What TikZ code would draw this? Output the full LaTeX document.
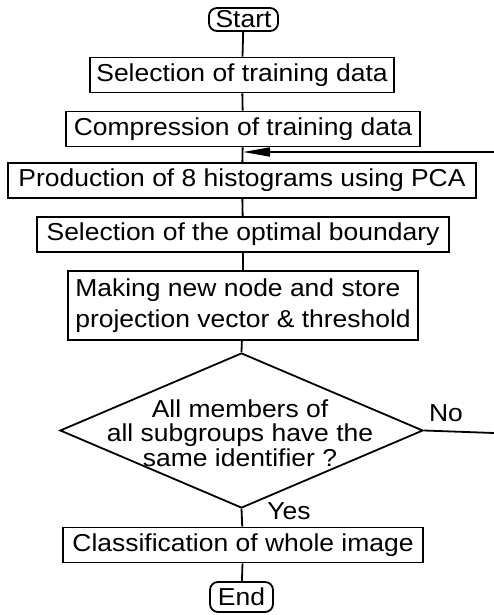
\documentclass[tikz,border=0pt]{standalone}
\usepackage{fontspec}
\setmainfont[FakeStretch=1.08]{Liberation Sans}
\usetikzlibrary{arrows.meta,shapes.geometric}
\begin{document}
\begin{tikzpicture}[x=1pt,y=-1pt,line width=1.8pt,
  txt/.style={font=\fontsize{24.5}{31}\selectfont},
  proc/.style={txt,draw,rectangle,inner sep=0pt,minimum height=35pt},
  term/.style={txt,draw,rectangle,rounded corners=8pt,inner sep=0pt},
  decision/.style={draw,diamond,inner sep=0pt,minimum width=363pt,minimum height=155pt},
  dtext/.style={font=\fontsize{24.5}{24.5}\selectfont,align=center,inner sep=0pt},
  lbl/.style={txt,inner sep=0pt},
  flow/.style={line width=1.8pt},
  back/.style={line width=1.8pt,-{Triangle[length=27pt,width=9pt]}}]
\useasboundingbox (0,0) rectangle (494,615);

% terminals and process steps
\node[term,minimum width=69pt,minimum height=23pt] (start) at (243.5,19.5) {Start};
\node[proc,minimum width=304pt] (b1) at (242,75) {Selection of training data};
\node[proc,minimum width=354pt] (b2) at (243,129) {Compression of training data};
\node[proc,minimum width=468pt] (b3) at (242,180.5) {Production of 8 histograms using PCA};
\node[proc,minimum width=412pt] (b4) at (243,234.5) {Selection of the optimal boundary};
\node[proc,minimum width=350pt,minimum height=69pt,align=left] (b5) at (243,305.5)
  {Making new node and store\\projection vector \& threshold};
\node[decision] (dec) at (241.5,430.5) {};
\node[dtext] (dectext) at (240,433) {All members of\\all subgroups have the\\same identifier ?};
\node[proc,minimum width=360pt] (b6) at (243,545) {Classification of whole image};
\node[term,minimum width=63pt,minimum height=30pt] (end) at (241.5,597) {End};

% branch labels
\node[lbl] (no) at (446,413) {No};
\node[lbl] (yes) at (289,511) {Yes};

% loose ends of the loop-back line at the right margin
\coordinate (loopA) at (494,433);
\coordinate (loopB) at (494,152);
\coordinate (merge) at (b2.south |- loopB);

% main flow
\draw[flow] (start) -- (b1);
\draw[flow] (b1) -- (b2);
\draw[flow] (b2) -- (b3);
\draw[flow] (b3) -- (b4);
\draw[flow] (b4) -- (b5);
\draw[flow] (b5) -- (dec.north);
\draw[flow] (dec.south) -- (b6);
\draw[flow] (b6) -- (end);

% "No" loop back
\draw[flow] (dec.east) -- (loopA);
\draw[back] (loopB) -- (merge);
\end{tikzpicture}
\end{document}
